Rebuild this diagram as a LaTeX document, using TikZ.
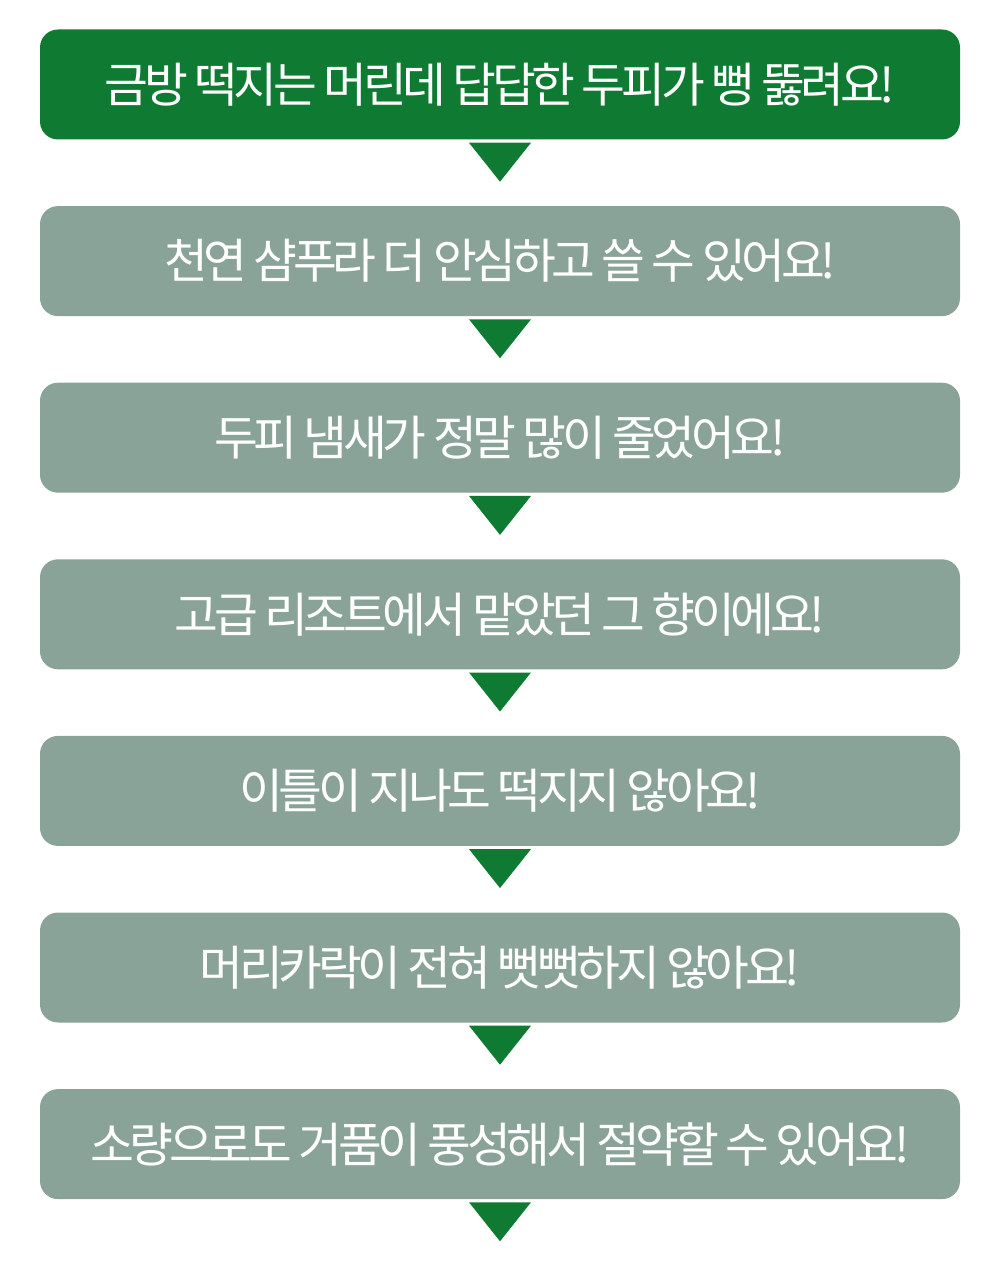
\documentclass[tikz,border=0pt]{standalone}
\usepackage{fontspec}
\newfontfamily\krfont[LetterSpace=-9]{Noto Sans CJK KR}
\usetikzlibrary{positioning}

\definecolor{leafgreen}{RGB}{14,122,50}
\definecolor{sagegray}{RGB}{138,163,152}

\begin{document}
\begin{tikzpicture}[x=1pt,y=1pt,node distance=66.2pt,
    line box/.style={rounded corners=18pt,fill=sagegray,minimum width=920pt,minimum height=110pt,inner sep=0pt,text=white,font=\krfont\fontsize{47.6}{56}\selectfont},
    down mark/.style={fill=leafgreen}]

            \useasboundingbox (0,0) rectangle (1000,-1276);

            \node[line box,fill=leafgreen] (1) at (500,-84.5) {금방 떡지는 머린데 답답한 두피가 뻥 뚫려요!};

            \foreach \curr/\txt [
                evaluate = \curr as \prev using {int(\curr-1)},
            ] in {2/{천연 샴푸라 더 안심하고 쓸 수 있어요!},
                  3/{두피 냄새가 정말 많이 줄었어요!},
                  4/{고급 리조트에서 맡았던 그 향이에요!},
                  5/{이틀이 지나도 떡지지 않아요!},
                  6/{머리카락이 전혀 뻣뻣하지 않아요!},
                  7/{소량으로도 거품이 풍성해서 절약할 수 있어요!}}{
                \node[line box] (\curr) [below = of \prev]{\txt};
            }

            \foreach \curr in {1,...,7}{
                \fill[down mark] (\curr.south) ++(-31,-3) -- ++(62,0) -- ++(-31,-39) -- cycle;
            }

        \end{tikzpicture}
\end{document}
